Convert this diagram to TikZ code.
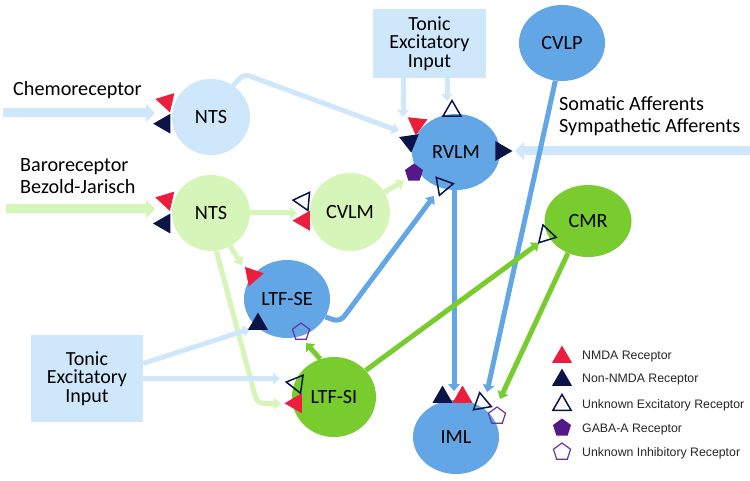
\documentclass[tikz,border=0pt]{standalone}
\usepackage{fontspec}
\setmainfont{Carlito}
\newfontfamily\legendfont{Liberation Sans}
\usetikzlibrary{shapes.geometric,arrows.meta}
\definecolor{lblue}{RGB}{207,231,250}
\definecolor{lgreen}{RGB}{214,245,184}
\definecolor{mblue}{RGB}{99,166,230}
\definecolor{mgreen}{RGB}{120,204,46}
\definecolor{nred}{RGB}{236,30,62}
\definecolor{navy}{RGB}{10,20,70}
\definecolor{purp}{RGB}{85,25,135}
\definecolor{purpl}{RGB}{105,50,160}
\begin{document}
\begin{tikzpicture}[x=1pt,y=-1pt,
  cell/.style={ellipse, inner sep=0pt, font=\fontsize{20.2}{22}\selectfont},
  lab/.style={font=\fontsize{20.2}{22.5}\selectfont, inner sep=0pt, align=left},
  tonicbox/.style={fill=lblue, inner sep=0pt, align=center, font=\fontsize{20}{18.5}\selectfont},
  legtext/.style={font=\legendfont\fontsize{12.3}{14}\selectfont, inner sep=0pt, anchor=west, text=black!85},
  tri/.style={regular polygon, regular polygon sides=3, minimum size=23pt, inner sep=0pt},
  pent/.style={regular polygon, regular polygon sides=5, minimum size=19pt, inner sep=0pt},
  nmda/.style={tri, fill=nred},
  nonnmda/.style={tri, fill=navy},
  unkex/.style={tri, draw=navy, line width=1.5pt, minimum size=21pt},
  gaba/.style={pent, fill=purp},
  unkin/.style={pent, draw=purpl, line width=1.2pt, minimum size=18pt},
  arr/.style={line width=5pt, -{Triangle[length=0pt 1.4, width=0pt 2.3]}},
  bigarr/.style={line width=9pt, -{Triangle[length=0pt 1.0, width=0pt 2.0]}}
]
\useasboundingbox (0,0) rectangle (750,481);

% boxes
\node[tonicbox, minimum width=113pt, minimum height=69pt] (tonicT) at (429.5,43.5) {Tonic\\Excitatory\\Input};
\node[tonicbox, minimum width=112pt, minimum height=87pt] (tonicB) at (87,378.5) {Tonic\\Excitatory\\Input};

% cells
\node[cell, fill=lblue, minimum width=78pt, minimum height=76pt] (ntsT) at (211,117) {NTS};
\node[cell, fill=lgreen, minimum width=78pt, minimum height=76pt] (ntsG) at (211,213) {NTS};
\node[cell, fill=lgreen, minimum width=80pt, minimum height=78pt] (cvlm) at (350,212) {CVLM};
\node[cell, fill=mblue, minimum width=88pt, minimum height=76pt] (rvlm) at (456,152) {RVLM};
\node[cell, fill=mblue, minimum width=86pt, minimum height=76pt] (cvlp) at (562,43) {CVLP};
\node[cell, fill=mgreen, minimum width=87pt, minimum height=72pt] (cmr) at (588,221) {CMR};
\node[cell, fill=mblue, minimum width=86pt, minimum height=78pt] (ltfse) at (287,299) {LTF-SE};
\node[cell, fill=mgreen, minimum width=84pt, minimum height=80pt] (ltfsi) at (334,397) {LTF-SI};
\node[cell, fill=mblue, minimum width=86pt, minimum height=74pt] (iml) at (456,437) {IML};

% labels
\node[lab, anchor=west] (chemo) at (13,90) {Chemoreceptor};
\node[lab, anchor=west] (baro) at (20,176) {Baroreceptor\\Bezold-Jarisch};
\node[lab, anchor=west] (soma) at (559,116) {Somatic Afferents\\Sympathetic Afferents};

% coordinates
\coordinate (chemoS) at (3,113);
\coordinate (chemoE) at (155,113);
\coordinate (baroS) at (6,209);
\coordinate (baroE) at (155,209);
\coordinate (somaS) at (750,151);
\coordinate (somaE) at (515,151);
\coordinate (bend1) at (244,74);
\coordinate (rvA) at (399,131);
\coordinate (rvT1) at (403,117);
\coordinate (rvT2) at (447,101);
\coordinate (cvA) at (297,213);
\coordinate (rvG) at (404,181);
\coordinate (seA) at (242,265);
\coordinate (bend2) at (257,403);
\coordinate (siA) at (281,404);
\coordinate (seT) at (250,329);
\coordinate (siB) at (280,378.5);
\coordinate (bend3) at (340,322);
\coordinate (rvB) at (434,196);
\coordinate (imA) at (454,391);
\coordinate (imC) at (487,392);
\coordinate (cmA) at (539,243);
\coordinate (imD) at (500,399);
\coordinate (seB) at (306,343);

% connectors
\draw[bigarr, lblue] (chemoS) -- (chemoE);
\draw[bigarr, lgreen] (baroS) -- (baroE);
\draw[bigarr, lblue] (somaS) -- (somaE);
\draw[arr, lblue, rounded corners=6pt] (ntsT.55) -- (bend1) -- (rvA);
\draw[arr, lblue] (tonicT.south -| rvT1) -- (rvT1);
\draw[arr, lblue] (tonicT.south -| rvT2) -- (rvT2);
\draw[arr, lgreen] (ntsG.east) -- (cvA);
\draw[arr, lgreen] (cvlm.30) -- (rvG);
\draw[arr, lgreen] (ntsG.-60) -- (seA);
\draw[arr, lgreen, rounded corners=6pt] (ntsG.-82) -- (bend2) -- (siA);
\draw[arr, lblue] (tonicB.15) -- (seT);
\draw[arr, lblue] (tonicB.east) -- (siB);
\draw[arr, mblue, rounded corners=7pt] (ltfse.-25) -- (bend3) -- (rvB);
\draw[arr, mblue] (rvlm.south -| imA) -- (imA);
\draw[arr, mblue] (cvlp.-100) -- (imC);
\draw[arr, mgreen] (ltfsi.40) -- (cmA);
\draw[arr, mgreen] (cmr.-122) -- (imD);
\draw[arr, mgreen] (ltfsi.110) -- (seB);

% receptors
\node[nmda, rotate=197] (r1) at (166.6,101.5) {};
\node[nonnmda, rotate=90] (r2) at (164.7,123.7) {};
\node[nmda, rotate=197] (r3) at (166.5,200) {};
\node[nonnmda, rotate=90] (r4) at (164.5,223.5) {};
\node[unkex, rotate=85] (r5) at (303.5,201) {};
\node[nmda, rotate=90] (r6) at (304,220.7) {};
\node[nmda, rotate=-79] (r7) at (252.5,275.5) {};
\node[nonnmda] (r8) at (258,324) {};
\node[unkin] (r9) at (301,332) {};
\node[unkex, rotate=82] (r10) at (296.6,383.5) {};
\node[nmda, rotate=90] (r11) at (296,403.3) {};
\node[nmda, rotate=174] (r12) at (417,124) {};
\node[nonnmda, rotate=188] (r13) at (409.7,141.3) {};
\node[gaba] (r14) at (414,173) {};
\node[unkex] (r15) at (452,111) {};
\node[unkex, rotate=-80] (r16) at (443,185.5) {};
\node[nonnmda, rotate=-90] (r17) at (501,151) {};
\node[unkex, rotate=17] (r18) at (546,235) {};
\node[nonnmda] (r19) at (442.5,397) {};
\node[nmda] (r20) at (462.5,397) {};
\node[unkex, rotate=10] (r21) at (481.5,403) {};
\node[unkin] (r22) at (497,416) {};

% legend
\node[nmda] (l1) at (562,357) {};
\node[legtext] (lt1) at (582,357) {NMDA Receptor};
\node[nonnmda] (l2) at (562,380) {};
\node[legtext] (lt2) at (582,380) {Non-NMDA Receptor};
\node[unkex] (l3) at (562,405) {};
\node[legtext] (lt3) at (582,405) {Unknown Excitatory Receptor};
\node[gaba] (l4) at (562,428) {};
\node[legtext] (lt4) at (582,429) {GABA-A Receptor};
\node[unkin] (l5) at (562,452) {};
\node[legtext] (lt5) at (582,453) {Unknown Inhibitory Receptor};
\end{tikzpicture}
\end{document}
